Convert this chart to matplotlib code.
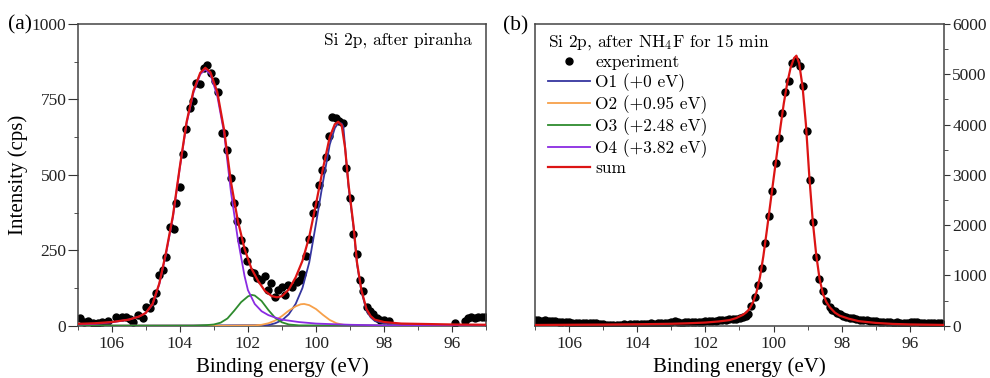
import matplotlib
matplotlib.use("Agg")
import matplotlib.pyplot as plt
from matplotlib.ticker import MultipleLocator

plt.rcParams['font.family'] = ['Liberation Serif', 'DejaVu Serif']
plt.rcParams['mathtext.fontset'] = 'cm'

CM = ['cmr10', 'DejaVu Serif']

# ---- panel (a): Si 2p after piranha ----
exp_a_e = [106.94, 106.8, 106.69, 106.55, 106.4, 106.27, 106.1, 105.86, 105.7, 105.57,
           105.47, 105.37, 105.23, 105.08, 104.98, 104.88, 104.79, 104.69, 104.61, 104.49,
           104.40, 104.28, 104.18, 104.10, 104.00, 103.90, 103.81, 103.71, 103.61, 103.52,
           103.42, 103.29, 103.19, 103.08, 102.97, 102.87, 102.77, 102.70, 102.60, 102.51,
           102.41, 102.31, 102.21, 102.11, 102.04, 101.92, 101.82, 101.74, 101.63, 101.50,
           101.40, 101.31, 101.21, 101.11, 101.01, 100.91, 100.82, 100.72, 100.57, 100.48,
           100.40, 100.30, 100.21, 100.10, 100.01, 99.92, 99.82, 99.72, 99.62, 99.52,
           99.42, 99.32, 99.21, 99.11, 99.01, 98.91, 98.81, 98.72, 98.62, 98.52,
           98.42, 98.33, 98.21, 98.11, 98.00, 97.85, 95.93, 95.64, 95.54, 95.44,
           95.34, 95.24, 95.14, 95.05]
exp_a_i = [24, 12, 17, 8, 10, 13, 15, 30, 28, 30,
           22, 13, 35, 24, 61, 58, 83, 109, 168, 185,
           229, 328, 320, 406, 459, 568, 653, 721, 745, 806,
           800, 853, 864, 839, 812, 776, 638, 638, 582, 491,
           408, 348, 284, 251, 215, 179, 176, 157, 152, 165,
           118, 141, 96, 118, 127, 102, 135, 127, 146, 150,
           171, 231, 286, 375, 403, 466, 516, 558, 629, 692,
           688, 680, 673, 522, 422, 304, 238, 151, 116, 61,
           50, 39, 25, 19, 19, 15, 8, 17, 25, 30,
           27, 30, 28, 30]

o1_e = [107.0, 103.0, 101.4, 101.2, 101.0, 100.8, 100.6, 100.4, 100.2, 100.0, 99.8, 99.6,
        99.45, 99.35, 99.25, 99.2, 99.05, 98.9, 98.8, 98.67, 98.52, 98.4, 98.28, 98.0,
        97.5, 97.0, 95.0]
o1_i = [0, 1, 2, 8, 18, 38, 72, 125, 210, 340, 475, 600,
        655, 672, 670, 660, 462, 325, 205, 114, 50, 28, 16, 8,
        3, 2, 0]

o2_e = [107.0, 102.5, 101.8, 101.6, 101.4, 101.2, 101.0, 100.8, 100.6, 100.45, 100.35,
        100.2, 100.0, 99.8, 99.6, 99.4, 99.2, 99.0, 98.0, 95.0]
o2_i = [0, 0, 1, 3, 8, 17, 32, 50, 64, 71, 72,
        68, 55, 36, 19, 8, 3, 1, 0, 0]

o3_e = [107.0, 103.6, 103.4, 103.2, 103.0, 102.8, 102.6, 102.4, 102.2, 102.0, 101.89,
        101.8, 101.6, 101.4, 101.2, 101.0, 100.8, 100.5, 95.0]
o3_i = [0, 0, 1, 2, 4, 10, 24, 50, 78, 97, 102,
        100, 82, 52, 26, 11, 4, 1, 0]

o4_e = [107.0, 106.5, 106.0, 105.5, 105.2, 105.0, 104.8, 104.6, 104.4, 104.2, 104.0,
        103.8, 103.6, 103.4, 103.25, 103.1, 102.9, 102.7, 102.5, 102.3, 102.1, 102.0,
        101.8, 101.6, 101.4, 101.2, 101.0, 100.5, 100.0, 99.0, 98.0, 95.0]
o4_i = [4, 6, 11, 20, 30, 42, 70, 138, 240, 360, 522,
        670, 772, 833, 850, 833, 762, 640, 445, 290, 165, 118,
        72, 48, 35, 27, 20, 12, 7, 3, 1, 0]

sum_a_e = [107.0, 106.5, 106.0, 105.5, 105.2, 105.0, 104.8, 104.6, 104.4, 104.2, 104.0,
           103.8, 103.6, 103.4, 103.25, 103.1, 102.9, 102.7, 102.5, 102.3, 102.1, 101.9,
           101.7, 101.5, 101.3, 101.15, 101.0, 100.8, 100.6, 100.4, 100.2, 100.0, 99.8,
           99.6, 99.45, 99.35, 99.25, 99.15, 99.05, 98.9, 98.8, 98.67, 98.52, 98.4,
           98.28, 98.0, 97.5, 97.0, 96.0, 95.0]
sum_a_i = [6, 8, 12, 20, 30, 42, 72, 140, 245, 365, 525,
           675, 778, 838, 855, 840, 775, 650, 478, 350, 255, 190,
           148, 115, 98, 94, 98, 120, 160, 215, 295, 405, 520,
           625, 668, 676, 665, 590, 470, 330, 210, 118, 55, 32,
           20, 12, 7, 6, 4, 3]

# ---- panel (b): Si 2p after NH4F ----
exp_b_e = [107.0, 106.9, 106.8, 106.7, 106.6, 106.5, 106.4, 106.3, 106.2, 106.1,
           106.0, 105.9, 105.8, 105.7, 105.6, 105.5, 105.4, 105.3, 105.2, 105.1,
           105.0, 104.9, 104.8, 104.7, 104.6, 104.5, 104.4, 104.3, 104.2, 104.1,
           104.0, 103.9, 103.8, 103.7, 103.6, 103.5, 103.4, 103.3, 103.2, 103.1,
           103.0, 102.9, 102.8, 102.7, 102.6, 102.5, 102.4, 102.3, 102.2, 102.1,
           102.0, 101.9, 101.8, 101.7, 101.6, 101.5, 101.4, 101.3, 101.2, 101.09,
           100.99, 100.89, 100.8, 100.74, 100.65, 100.55, 100.45, 100.35, 100.26, 100.14,
           100.04, 99.94, 99.84, 99.75, 99.65, 99.54, 99.47, 99.35, 99.23, 99.13,
           99.03, 98.94, 98.84, 98.75, 98.66, 98.55, 98.45, 98.35, 98.28, 98.2,
           98.13, 98.06, 97.96, 97.86, 97.76, 97.66, 97.57, 97.47, 97.37, 97.27,
           97.18, 97.08, 96.98, 96.88, 96.78, 96.68, 96.58, 96.48, 96.38, 96.28,
           96.18, 96.08, 95.98, 95.88, 95.78, 95.68, 95.58, 95.48, 95.38, 95.28,
           95.18, 95.08]
exp_b_i = [105, 115, 100, 110, 95, 90, 85, 75, 70, 65,
           70, 60, 55, 60, 50, 45, 55, 45, 50, 35,
           25, 20, 15, 20, 15, 20, 25, 20, 30, 25,
           35, 30, 40, 35, 45, 40, 50, 55, 50, 60,
           70, 85, 65, 60, 70, 65, 75, 70, 80, 75,
           85, 90, 95, 100, 105, 110, 120, 125, 130, 133,
           150, 167, 200, 233, 398, 577, 816, 1141, 1645, 2188,
           2685, 3230, 3727, 4225, 4654, 4861, 5219, 5259, 5171, 4761,
           3866, 2898, 2056, 1360, 929, 696, 497, 366, 320, 286,
           260, 233, 200, 179, 160, 145, 133, 120, 110, 105,
           99, 90, 85, 80, 75, 70, 65, 60, 65, 55,
           50, 60, 70, 80, 65, 55, 50, 60, 55, 50,
           60, 55]

sum_b_e = [107.0, 106.0, 105.0, 104.0, 103.0, 102.5, 102.0, 101.6, 101.3, 101.1,
           100.9, 100.8, 100.7, 100.6, 100.5, 100.4, 100.3, 100.2, 100.1, 100.0,
           99.9, 99.8, 99.7, 99.6, 99.5, 99.4, 99.33, 99.25, 99.15, 99.05,
           98.95, 98.85, 98.75, 98.65, 98.55, 98.45, 98.35, 98.2, 98.06, 97.8,
           97.5, 97.0, 96.5, 96.0, 95.0]
sum_b_i = [14, 18, 22, 28, 38, 48, 62, 85, 110, 150,
           215, 265, 340, 470, 670, 960, 1380, 1880, 2400, 2920,
           3430, 3940, 4420, 4820, 5130, 5320, 5370, 5220, 4760, 4000,
           2960, 2080, 1420, 930, 630, 470, 366, 260, 199, 140,
           90, 55, 35, 25, 15]

comp_labels = ['O1 (+0 eV)', 'O2 (+0.95 eV)', 'O3 (+2.48 eV)', 'O4 (+3.82 eV)']
comp_colors = ['#35359f', '#f7a04a', '#2e8b2e', '#8a2be2']
sum_color = '#dc1414'

fig = plt.figure(figsize=(9.9, 3.78), dpi=100)
ax1 = fig.add_axes([0.0783, 0.1384, 0.4131, 0.7981])
ax2 = fig.add_axes([0.5404, 0.1384, 0.4131, 0.7981])

h_exp, = ax1.plot(exp_a_e, exp_a_i, 'o', color='black', markersize=5, label='experiment', zorder=2)
handles = [h_exp]
for xs, ys, lab, col in zip([o1_e, o2_e, o3_e, o4_e], [o1_i, o2_i, o3_i, o4_i],
                            comp_labels, comp_colors):
    h, = ax1.plot(xs, ys, color=col, lw=1.3, label=lab, zorder=3)
    handles.append(h)
h_sum, = ax1.plot(sum_a_e, sum_a_i, color=sum_color, lw=1.6, label='sum', zorder=4)
handles.append(h_sum)

ax2.plot(exp_b_e, exp_b_i, 'o', color='black', markersize=5, zorder=2)
ax2.plot(sum_b_e, sum_b_i, color=sum_color, lw=1.6, zorder=4)

for ax in (ax1, ax2):
    ax.set_xlim(107, 95)
    ax.xaxis.set_major_locator(MultipleLocator(2))
    ax.xaxis.set_minor_locator(MultipleLocator(1))
    ax.set_xlabel('Binding energy (eV)', fontsize=15, labelpad=4)
    ax.tick_params(axis='both', which='both', direction='out', labelsize=12.5,
                   color='#333333', labelcolor='#222222')
    ax.tick_params(which='major', length=4)
    ax.tick_params(which='minor', length=3)
    for sp in ax.spines.values():
        sp.set_color('#444444')
        sp.set_linewidth(1.1)

ax1.set_ylim(0, 1000)
ax1.yaxis.set_major_locator(MultipleLocator(250))
ax1.yaxis.set_minor_locator(MultipleLocator(125))
ax1.tick_params(axis='y', which='major', length=7, pad=1)
ax1.set_ylabel('Intensity (cps)', fontsize=15, labelpad=3)
ax1.text(0.9645, 0.947, 'Si 2p, after piranha', transform=ax1.transAxes,
         ha='right', va='center', family=CM, fontsize=12.5)

ax2.set_ylim(0, 6000)
ax2.yaxis.set_major_locator(MultipleLocator(1000))
ax2.yaxis.set_minor_locator(MultipleLocator(500))
ax2.yaxis.tick_right()
ax2.tick_params(axis='y', which='both', pad=2)

leg = ax2.legend(handles=handles, loc='upper left', bbox_to_anchor=(0.012, 1.0),
                 frameon=False,
                 title='Si 2p, after NH$_4$F for 15 min',
                 prop={'family': CM, 'size': 12.5},
                 title_fontproperties={'family': CM, 'size': 12.5},
                 alignment='left', handlelength=2.45, handletextpad=0.3,
                 labelspacing=0.18, borderpad=0.3, borderaxespad=0.15,
                 numpoints=1)

fig.text(0.008, 0.934, '(a)', fontsize=15.5, va='center', ha='left')
fig.text(0.508, 0.931, '(b)', fontsize=15.5, va='center', ha='left')

fig.savefig('out.png', dpi=100)
